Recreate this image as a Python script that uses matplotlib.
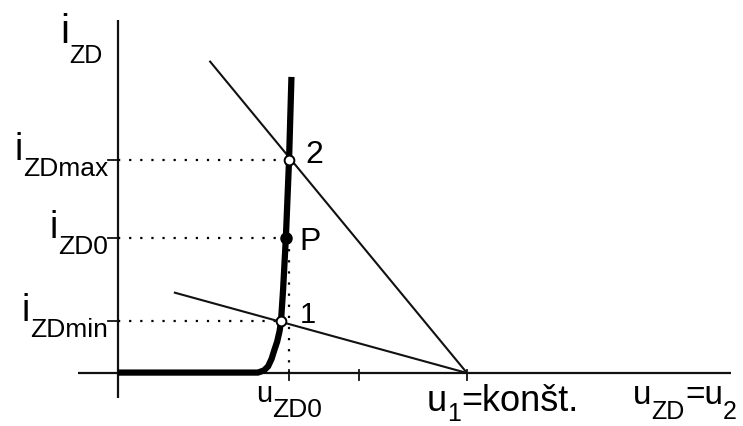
import numpy as np
import matplotlib
matplotlib.use("Agg")
import matplotlib.pyplot as plt
from matplotlib.transforms import offset_copy

plt.rcParams['font.family'] = ['Liberation Sans', 'DejaVu Sans']

# Zener characteristic i_ZD(u_ZD), read point by point
u_zd = [0.0, 4.01, 4.18, 4.30, 4.40, 4.48, 4.56, 4.63, 4.67, 4.73, 4.81, 4.90, 4.97]
i_zd = [0.02, 0.02, 0.12, 0.31, 0.66, 1.08, 1.47, 1.97, 2.42, 3.90, 6.36, 9.95, 13.9]

# working points 1, P, 2
u_pts = [4.67, 4.81, 4.90]
i_pts = [2.42, 6.36, 10.0]
pt_names = ['1', 'P', '2']

# load lines end in u1 on the u axis
u1 = 10.0
u_zd0 = 4.9
load_u_start = [1.63, 2.64]
load_i_start = [3.77, 14.62]

x_ticks = [u_zd0, 6.9, u1]
y_ticks = [2.42, 6.36, 10.0]
y_subs = ['ZDmin', 'ZD0', 'ZDmax']

fig = plt.figure(figsize=(7.43, 4.26), dpi=100)
ax = fig.add_axes([0, 0, 1, 1])
ax.set_xlim(-3.381, 17.908)
ax.set_ylim(-2.488, 17.512)
ax.axis('off')
rend = fig.canvas.get_renderer()


def rich_text(x, y, parts, size, sub_size, drop, ha='left'):
    # parts: list of (text, is_subscript); subscripts are lowered by drop pixels
    widths = []
    for s, is_sub in parts:
        t = ax.text(0, 0, s, fontsize=sub_size if is_sub else size)
        widths.append(t.get_window_extent(rend).width)
        t.remove()
    total = sum(widths)
    off = {'left': 0, 'center': -total / 2, 'right': -total}[ha]
    for (s, is_sub), w in zip(parts, widths):
        tr = offset_copy(ax.transData, fig=fig, x=off, y=-drop if is_sub else 0, units='dots')
        ax.text(x, y, s, fontsize=sub_size if is_sub else size, transform=tr,
                ha='left', va='baseline')
        off += w


# axes
ax.plot([-1.15, 17.56], [0, 0], color='#111111', lw=1.6, solid_capstyle='butt')
ax.plot([0, 0], [-1.17, 16.57], color='#111111', lw=1.6, solid_capstyle='butt')
for xt in x_ticks:
    ax.plot([xt, xt], [0.14, -0.33], color='#111111', lw=1.3)
for yt in y_ticks:
    ax.plot([-0.29, 0], [yt, yt], color='#111111', lw=1.3)

# dotted guides
for up, ip in zip(u_pts, i_pts):
    ax.plot([0, up], [ip, ip], color='black', lw=1.6, linestyle=(0, (1, 4)))
ax.plot([u_zd0, u_zd0], [i_pts[1], 0], color='black', lw=1.6, linestyle=(0, (1, 4)))

# load lines
for us, is_ in zip(load_u_start, load_i_start):
    ax.plot([us, u1], [is_, 0], color='#111111', lw=1.5)

# diode curve
ax.plot(u_zd, i_zd, color='black', lw=4.5, solid_capstyle='butt', solid_joinstyle='round')

# points
ax.plot(u_pts[0], i_pts[0], 'o', ms=7, mfc='white', mec='black', mew=1.4)
ax.plot(u_pts[2], i_pts[2], 'o', ms=7, mfc='white', mec='black', mew=1.4)
ax.plot(u_pts[1], i_pts[1], 'o', ms=8, mfc='black', mec='black')

ax.text(5.21, 2.35, pt_names[0], fontsize=21, ha='left', va='baseline')
ax.text(5.21, 5.77, pt_names[1], fontsize=23, ha='left', va='baseline')
ax.text(5.36, 9.86, pt_names[2], fontsize=23, ha='left', va='baseline')

# labels
rich_text(-1.66, 15.49, [('i', False), ('ZD', True)], 29, 18, 20)
for yt, sub in zip(y_ticks, y_subs):
    rich_text(-0.29, yt, [('i', False), (sub, True)], 27, 19, 16, ha='right')
rich_text(u_zd0, -1.36, [('u', False), ('ZD0', True)], 21, 19, 15, ha='center')
rich_text(8.85, -1.80, [('u', False), ('1', True), ('=konšt.', False)], 26, 18, 10)
rich_text(14.76, -1.45, [('u', False), ('ZD', True), ('=u', False), ('2', True)], 24, 18, 15)

fig.savefig('out.png', dpi=100)
